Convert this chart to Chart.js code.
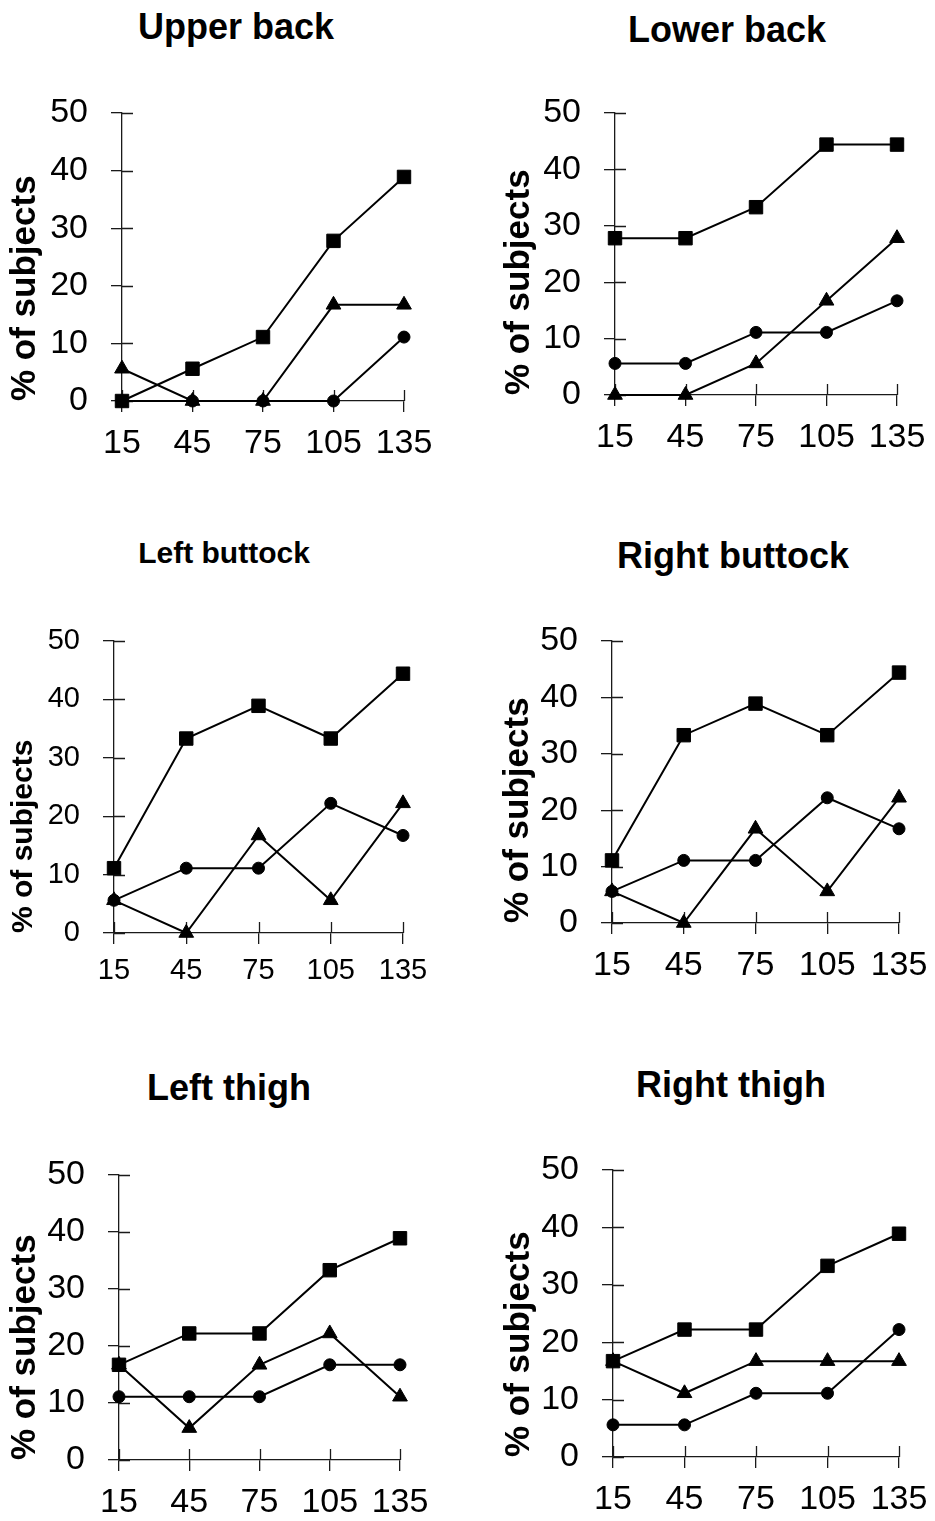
<!DOCTYPE html>
<html lang="en">
<head>
    <meta charset="UTF-8">
    <title>% of subjects by body region</title>
    <script src="https://cdn.jsdelivr.net/npm/chart.js@4.4.1/dist/chart.umd.min.js"></script>
    <style>
        body {
            margin: 0;
            background: #fff;
        }
        #page {
            position: relative;
            width: 935px;
            height: 1521px;
            background: #fff;
            overflow: hidden;
        }
        #page canvas {
            position: absolute;
        }
        .panel-title {
            position: absolute;
            width: 400px;
            text-align: center;
            font-family: "Liberation Sans", Arial, sans-serif;
            font-weight: bold;
            line-height: 1;
            color: #000;
            white-space: nowrap;
        }
    </style>
</head>
<body>
    <div id="page"></div>

    <script>
        // x categories (minutes)
        const timeLabels = ['15', '45', '75', '105', '135'];

        // values, % of subjects
        const upperBackSquare   = [0, 5.6, 11.1, 27.8, 38.9];
        const upperBackTriangle = [5.6, 0, 0, 16.7, 16.7];
        const upperBackCircle   = [0, 0, 0, 0, 11.1];

        const lowerBackSquare   = [27.8, 27.8, 33.3, 44.4, 44.4];
        const lowerBackTriangle = [0, 0, 5.6, 16.7, 27.8];
        const lowerBackCircle   = [5.6, 5.6, 11.1, 11.1, 16.7];

        const leftButtockSquare   = [11.1, 33.3, 38.9, 33.3, 44.4];
        const leftButtockTriangle = [5.6, 0, 16.7, 5.6, 22.2];
        const leftButtockCircle   = [5.6, 11.1, 11.1, 22.2, 16.7];

        const rightButtockSquare   = [11.1, 33.3, 38.9, 33.3, 44.4];
        const rightButtockTriangle = [5.6, 0, 16.7, 5.6, 22.2];
        const rightButtockCircle   = [5.6, 11.1, 11.1, 22.2, 16.7];

        const leftThighSquare   = [16.7, 22.2, 22.2, 33.3, 38.9];
        const leftThighTriangle = [16.7, 5.6, 16.7, 22.2, 11.1];
        const leftThighCircle   = [11.1, 11.1, 11.1, 16.7, 16.7];

        const rightThighSquare   = [16.7, 22.2, 22.2, 33.3, 38.9];
        const rightThighTriangle = [16.7, 11.1, 16.7, 16.7, 16.7];
        const rightThighCircle   = [5.6, 5.6, 11.1, 11.1, 22.2];

        const yLabel = '% of subjects';
        const FONT = '"Liberation Sans", Arial, sans-serif';
        const AXIS_COLOR = '#1a1a1a';
        const AXIS_WIDTH = 1.3;
        const TICK = 11;

        // layout of each panel (page pixels): plot box, title centre, font sizes
        const panels = [
            { title: 'Upper back', data: [upperBackSquare, upperBackTriangle, upperBackCircle],
              left: 122, right: 404, top: 113, bottom: 401, tx: 236, ty: 27, tSize: 36, tick: 34, labX: 25, labSize: 35 },
            { title: 'Lower back', data: [lowerBackSquare, lowerBackTriangle, lowerBackCircle],
              left: 615, right: 897, top: 113, bottom: 395, tx: 727, ty: 30, tSize: 36, tick: 34, labX: 519, labSize: 35 },
            { title: 'Left buttock', data: [leftButtockSquare, leftButtockTriangle, leftButtockCircle],
              left: 114, right: 403, top: 641, bottom: 933, tx: 224, ty: 553, tSize: 30, tick: 29, labX: 24, labSize: 30 },
            { title: 'Right buttock', data: [rightButtockSquare, rightButtockTriangle, rightButtockCircle],
              left: 612, right: 899, top: 641, bottom: 923, tx: 733, ty: 556, tSize: 36, tick: 34, labX: 518, labSize: 35 },
            { title: 'Left thigh', data: [leftThighSquare, leftThighTriangle, leftThighCircle],
              left: 119, right: 400, top: 1175, bottom: 1460, tx: 229, ty: 1088, tSize: 36, tick: 34, labX: 25, labSize: 35 },
            { title: 'Right thigh', data: [rightThighSquare, rightThighTriangle, rightThighCircle],
              left: 613, right: 899, top: 1170, bottom: 1457, tx: 731, ty: 1085, tSize: 36, tick: 34, labX: 519, labSize: 35 }
        ];

        const markers = [
            { style: 'rect', radius: 9.5 },
            { style: 'triangle', radius: 8.5 },
            { style: 'circle', radius: 6 }
        ];

        // inner half of the tick marks (Chart.js only draws the outer half)
        const crossTicks = {
            id: 'crossTicks',
            beforeDatasetsDraw(chart) {
                const { ctx, chartArea, scales } = chart;
                ctx.save();
                ctx.strokeStyle = AXIS_COLOR;
                ctx.lineWidth = AXIS_WIDTH;
                ctx.beginPath();
                scales.y.ticks.forEach((t, i) => {
                    const py = Math.round(scales.y.getPixelForTick(i)) + 0.5;
                    ctx.moveTo(chartArea.left, py);
                    ctx.lineTo(chartArea.left + TICK, py);
                });
                scales.x.ticks.forEach((t, i) => {
                    const px = Math.round(scales.x.getPixelForTick(i)) + 0.5;
                    ctx.moveTo(px, chartArea.bottom);
                    ctx.lineTo(px, chartArea.bottom - TICK);
                });
                ctx.stroke();
                ctx.restore();
            }
        };

        const page = document.getElementById('page');

        panels.forEach(p => {
            // title as html text
            const t = document.createElement('div');
            t.className = 'panel-title';
            t.textContent = p.title;
            t.style.fontSize = p.tSize + 'px';
            t.style.left = (p.tx - 200) + 'px';
            t.style.top = (p.ty - 0.49 * p.tSize) + 'px';
            page.appendChild(t);

            const padTop = 30, padRight = 40, xHeight = 70;
            const cl = Math.round(p.labX - p.labSize * 0.6);
            const ct = p.top - padTop;
            const cw = p.right + padRight - cl;
            const ch = p.bottom + xHeight - ct;
            const yWidth = p.left - cl;

            const canvas = document.createElement('canvas');
            canvas.width = cw;
            canvas.height = ch;
            canvas.style.left = cl + 'px';
            canvas.style.top = ct + 'px';
            page.appendChild(canvas);

            const datasets = p.data.map((values, i) => ({
                data: values,
                borderColor: '#000',
                backgroundColor: '#000',
                borderWidth: 2,
                pointStyle: markers[i].style,
                pointRadius: markers[i].radius,
                pointBackgroundColor: '#000',
                pointBorderColor: '#000',
                pointBorderWidth: 1,
                tension: 0,
                clip: false
            }));

            new Chart(canvas.getContext('2d'), {
                type: 'line',
                data: { labels: timeLabels, datasets: datasets },
                plugins: [crossTicks],
                options: {
                    responsive: false,
                    animation: false,
                    devicePixelRatio: 1,
                    layout: {
                        autoPadding: false,
                        padding: { top: padTop, right: padRight, bottom: 0, left: 0 }
                    },
                    plugins: {
                        legend: { display: false },
                        title: { display: false },
                        tooltip: { enabled: false }
                    },
                    scales: {
                        x: {
                            type: 'category',
                            offset: false,
                            grid: { display: true, drawOnChartArea: false, drawTicks: true, tickLength: TICK, color: AXIS_COLOR, lineWidth: AXIS_WIDTH },
                            border: { display: true, color: AXIS_COLOR, width: AXIS_WIDTH },
                            ticks: { color: '#000', padding: p.tick < 30 ? 10 : 11, maxRotation: 0, autoSkip: false, font: { family: FONT, size: p.tick } },
                            afterFit(s) {
                                s.height = xHeight;
                                s.paddingLeft = 0;
                                s.paddingRight = 0;
                            }
                        },
                        y: {
                            min: 0,
                            max: 50,
                            grid: { display: true, drawOnChartArea: false, drawTicks: true, tickLength: TICK, color: AXIS_COLOR, lineWidth: AXIS_WIDTH },
                            border: { display: true, color: AXIS_COLOR, width: AXIS_WIDTH },
                            ticks: { stepSize: 10, color: '#000', padding: 23, font: { family: FONT, size: p.tick } },
                            title: {
                                display: true,
                                text: yLabel,
                                align: 'start',
                                color: '#000',
                                padding: 0,
                                font: { family: FONT, size: p.labSize, weight: 'bold' }
                            },
                            afterFit(s) {
                                s.width = yWidth;
                                s.paddingTop = 0;
                                s.paddingBottom = 0;
                            }
                        }
                    }
                }
            });
        });
    </script>
</body>
</html>
